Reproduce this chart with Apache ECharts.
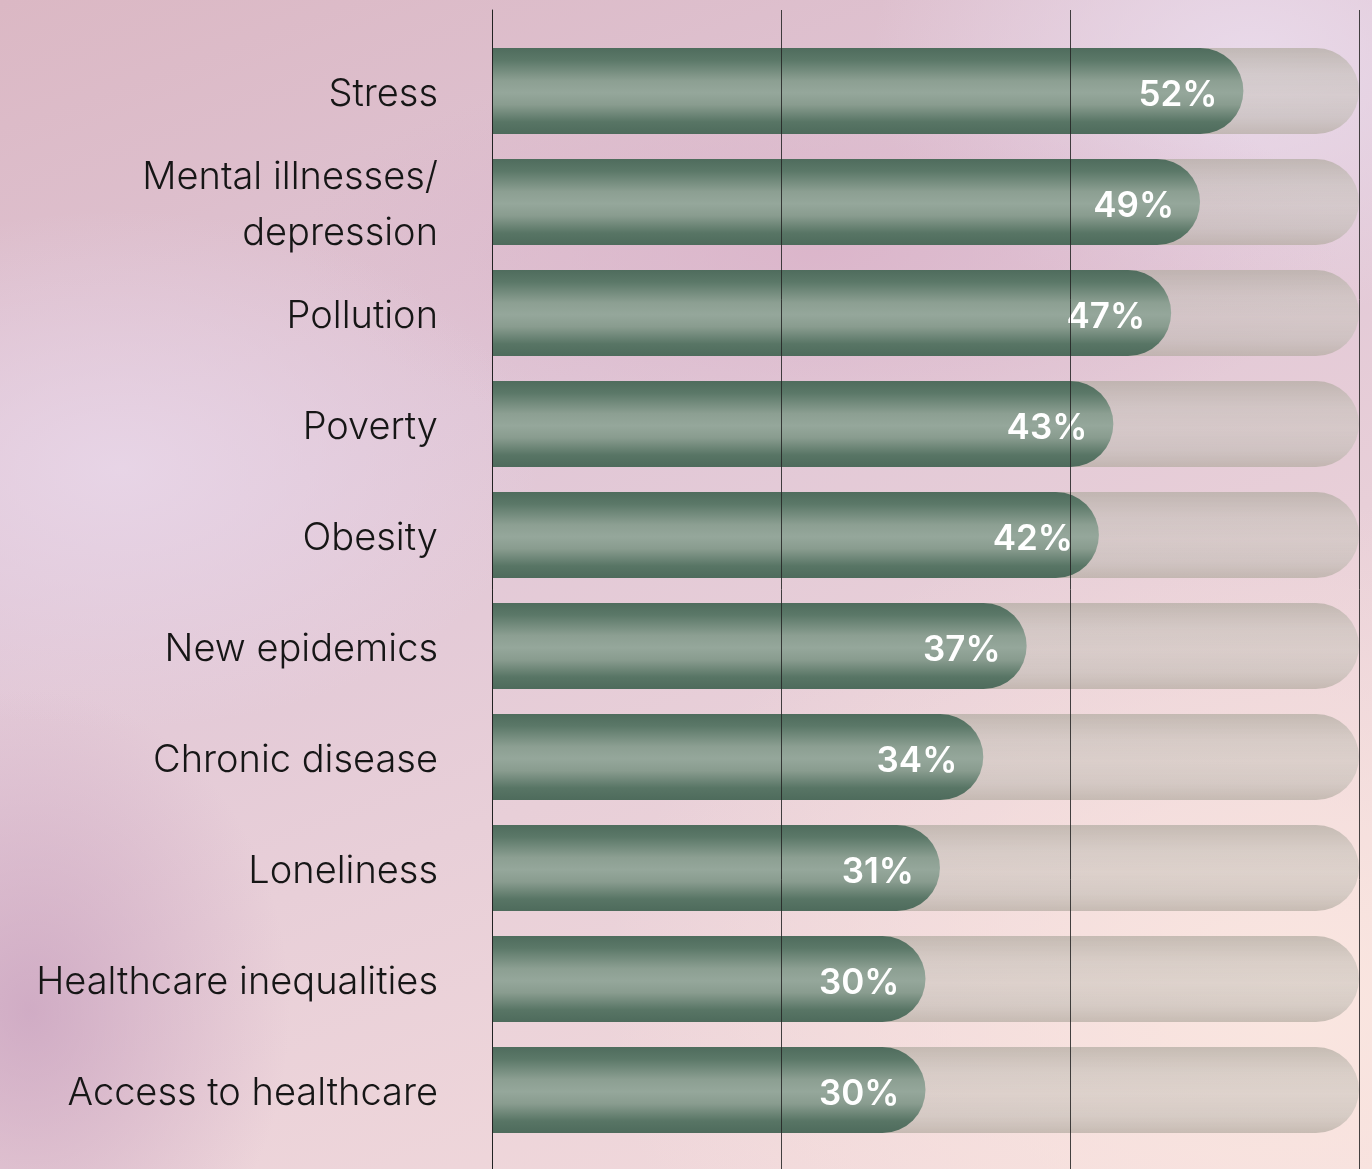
<!DOCTYPE html>
<html>
<head>
<meta charset="utf-8">
<title>Health concerns</title>
<script src="https://cdn.jsdelivr.net/npm/echarts@6/dist/echarts.min.js"></script>
<style>
  html, body {
    margin: 0;
    padding: 0;
  }
  body {
    width: 1372px;
    height: 1169px;
    overflow: hidden;
    background:
      radial-gradient(ellipse 260px 320px at 30px 1010px, rgba(200,160,190,0.75), rgba(200,160,190,0) 100%),
      radial-gradient(ellipse 420px 260px at 120px 470px, rgba(232,214,232,0.9), rgba(232,214,232,0) 100%),
      radial-gradient(ellipse 520px 200px at 820px 250px, rgba(218,178,200,0.8), rgba(218,178,200,0) 100%),
      radial-gradient(ellipse 380px 260px at 1250px 60px, rgba(234,220,236,0.9), rgba(234,220,236,0) 100%),
      radial-gradient(ellipse 700px 500px at 1300px 1000px, rgba(250,230,224,1), rgba(250,230,224,0) 100%),
      linear-gradient(160deg, #dbb8c4 0%, #e0c6d6 35%, #e8cfd8 60%, #f4dcdc 100%);
  }
  #chart {
    width: 1372px;
    height: 1169px;
  }
</style>
</head>
<body>
<div id="chart"></div>
<script>
  // categories, top to bottom
  const categories = [
    'Stress',
    'Mental illnesses/\ndepression',
    'Pollution',
    'Poverty',
    'Obesity',
    'New epidemics',
    'Chronic disease',
    'Loneliness',
    'Healthcare inequalities',
    'Access to healthcare'
  ]
  // share of respondents (%)
  const values = [52, 49, 47, 43, 42, 37, 34, 31, 30, 30]
  // axis scale
  const axisMin = 0
  const axisMax = 60
  const axisStep = 20

  const chart = echarts.init(document.getElementById('chart'), null, { renderer: 'canvas' })

  const greenBar = new echarts.graphic.LinearGradient(0, 0, 0, 1, [
    { offset: 0, color: '#4f6c5d' },
    { offset: 0.14, color: '#5b7868' },
    { offset: 0.38, color: '#8c9f92' },
    { offset: 0.52, color: '#95a79b' },
    { offset: 0.66, color: '#899c8f' },
    { offset: 0.86, color: '#587565' },
    { offset: 1, color: '#4e6b5c' }
  ])

  // semi transparent track so the backdrop tints it
  const greyTrack = new echarts.graphic.LinearGradient(0, 0, 0, 1, [
    { offset: 0, color: 'rgba(178,172,162,0.72)' },
    { offset: 0.3, color: 'rgba(196,192,184,0.6)' },
    { offset: 0.55, color: 'rgba(200,196,188,0.55)' },
    { offset: 0.8, color: 'rgba(192,188,180,0.6)' },
    { offset: 1, color: 'rgba(180,172,162,0.72)' }
  ])

  chart.setOption({
    backgroundColor: 'transparent',
    animation: false,
    grid: [
      // full height grid, only for the vertical rules
      { left: 492, right: 13, top: 10, bottom: 0 },
      // bars
      { left: 492, right: 13, top: 35.5, bottom: 23.5 },
      // category names sit a few px below the bar centres
      { left: 492, right: 13, top: 39.5, bottom: 19.5 }
    ],
    xAxis: [
      {
        gridIndex: 0,
        type: 'value',
        min: axisMin,
        max: axisMax,
        interval: axisStep,
        z: 10,
        axisLine: { show: false },
        axisTick: { show: false },
        axisLabel: { show: false },
        splitLine: {
          show: true,
          lineStyle: { color: 'rgba(35,35,35,0.85)', width: 1 }
        }
      },
      {
        gridIndex: 1,
        type: 'value',
        min: axisMin,
        max: axisMax,
        interval: axisStep,
        show: false,
        splitLine: { show: false }
      },
      {
        gridIndex: 2,
        type: 'value',
        min: axisMin,
        max: axisMax,
        show: false,
        splitLine: { show: false }
      }
    ],
    yAxis: [
      {
        gridIndex: 0,
        type: 'value',
        z: 10,
        axisLine: { show: true, lineStyle: { color: '#222', width: 1 } },
        axisTick: { show: false },
        axisLabel: { show: false },
        splitLine: { show: false }
      },
      {
        gridIndex: 1,
        type: 'category',
        data: categories,
        inverse: true,
        axisLine: { show: false },
        axisTick: { show: false },
        axisLabel: { show: false }
      },
      {
        gridIndex: 2,
        type: 'category',
        data: categories,
        inverse: true,
        axisLine: { show: false },
        axisTick: { show: false },
        axisLabel: {
          margin: 54,
          color: '#161616',
          fontFamily: 'Inter',
          fontWeight: 300,
          fontSize: 38,
          lineHeight: 56
        }
      }
    ],
    series: [{
      type: 'bar',
      xAxisIndex: 1,
      yAxisIndex: 1,
      data: values,
      barWidth: 86,
      showBackground: true,
      backgroundStyle: {
        color: greyTrack,
        borderRadius: [0, 43, 43, 0]
      },
      itemStyle: {
        color: greenBar,
        borderRadius: [0, 43, 43, 0]
      },
      label: {
        show: true,
        position: 'insideRight',
        distance: 26,
        offset: [0, 4],
        formatter: '{c}%',
        color: '#ffffff',
        fontFamily: 'Inter',
        fontWeight: 600,
        fontSize: 35
      }
    }]
  })
</script>
</body>
</html>
